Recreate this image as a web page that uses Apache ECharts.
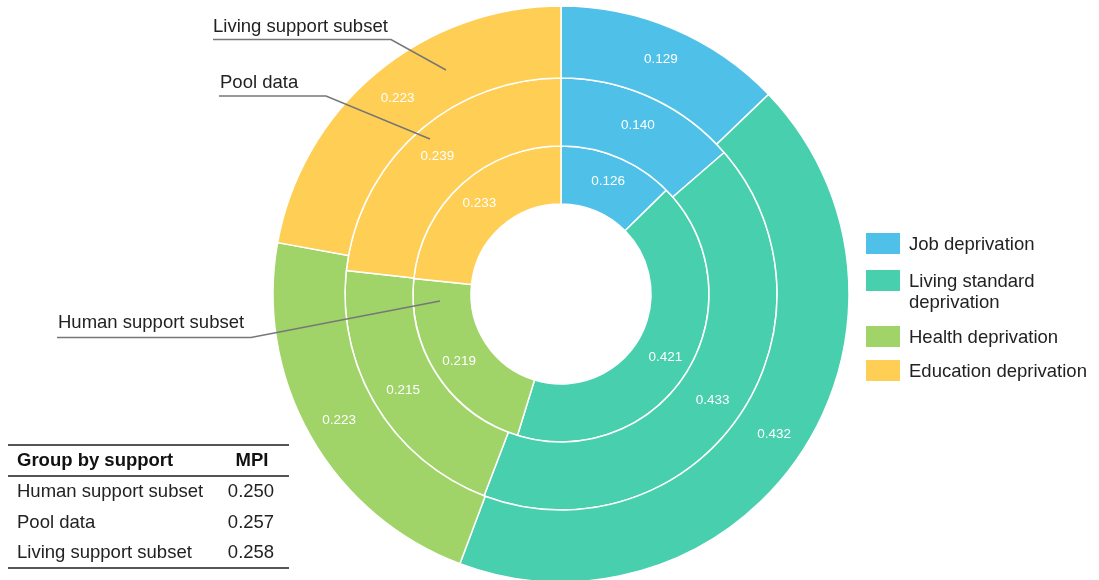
<!DOCTYPE html>
<html>
<head>
<meta charset="utf-8">
<script src="https://cdn.jsdelivr.net/npm/echarts@6/dist/echarts.min.js"></script>
<style>
  html, body { margin: 0; padding: 0; background: #fff; }
  #chart { width: 1099px; height: 580px; }
</style>
</head>
<body>
<div id="chart"></div>
<script>
// Deprivation dimensions (shared by all three rings)
const categories = ['Job deprivation', 'Living standard deprivation', 'Health deprivation', 'Education deprivation'];
const colors = ['#4FC1E9', '#48CFAD', '#A0D468', '#FFCE54'];

// Contribution of each dimension, per group
const humanSupport = [0.126, 0.421, 0.219, 0.233];   // inner ring
const poolData = [0.140, 0.433, 0.215, 0.239];       // middle ring
const livingSupport = [0.129, 0.432, 0.223, 0.223];  // outer ring

// MPI summary table
const groupNames = ['Human support subset', 'Pool data', 'Living support subset'];
const mpiValues = ['0.250', '0.257', '0.258'];

const FONT = 'Liberation Sans, Arial, sans-serif';
const CX = 561, CY = 294;

function ring(name, values, radius) {
  return {
    name: name,
    type: 'pie',
    center: [CX, CY],
    radius: radius,
    startAngle: 90,
    clockwise: true,
    silent: true,
    animation: false,
    itemStyle: { borderColor: '#fff', borderWidth: 1.5 },
    label: {
      show: true,
      position: 'inside',
      color: '#fff',
      fontSize: 13.5,
      fontFamily: FONT,
      formatter: p => p.value.toFixed(3)
    },
    labelLine: { show: false },
    emphasis: { disabled: true },
    data: values.map((v, i) => ({ name: categories[i], value: v }))
  };
}

const graphics = [];

// Legend: colour boxes with labels
const legendTops = [233, 270, 326, 360];
categories.forEach((c, i) => {
  graphics.push({
    type: 'rect', left: 866, top: legendTops[i], z: 100,
    shape: { width: 34, height: 21 },
    style: { fill: colors[i] }
  });
  const twoLine = c === 'Living standard deprivation';
  graphics.push({
    type: 'text', x: 909, y: twoLine ? legendTops[i] + 1 : legendTops[i] + 12, z: 100,
    style: {
      text: twoLine ? 'Living standard\ndeprivation' : c,
      fill: '#222', font: '18.5px ' + FONT,
      verticalAlign: twoLine ? 'top' : 'middle', align: 'left', lineHeight: 21
    }
  });
});

// Ring callouts: label, underline and pointer into the ring
const callouts = [
  { text: groupNames[2], tx: 213, ty: 27, pts: [[213, 39.5], [391, 39.5], [446, 70]] },
  { text: groupNames[1], tx: 220, ty: 83, pts: [[219, 96], [326, 96], [430, 139]] },
  { text: groupNames[0], tx: 58, ty: 323, pts: [[57, 337.5], [251, 337.5], [440, 301]] }
];
callouts.forEach(c => {
  graphics.push({
    type: 'text', x: c.tx, y: c.ty, z: 100,
    style: { text: c.text, fill: '#222', font: '18.5px ' + FONT, verticalAlign: 'middle' }
  });
  graphics.push({
    type: 'polyline', z: 100, shape: { points: c.pts },
    style: { stroke: '#777', lineWidth: 1.6, fill: null }
  });
});

// MPI table
const tableLines = [445, 476, 568];
tableLines.forEach(y => {
  graphics.push({
    type: 'line', z: 100, shape: { x1: 8, y1: y, x2: 289, y2: y },
    style: { stroke: '#555', lineWidth: 2 }
  });
});
graphics.push({
  type: 'text', x: 17, y: 461, z: 100,
  style: { text: 'Group by support', fill: '#111', font: 'bold 18.5px ' + FONT, verticalAlign: 'middle' }
});
graphics.push({
  type: 'text', x: 252, y: 461, z: 100,
  style: { text: 'MPI', fill: '#111', font: 'bold 18.5px ' + FONT, verticalAlign: 'middle', align: 'center' }
});
const rowYs = [492, 522.5, 553];
groupNames.forEach((g, i) => {
  graphics.push({
    type: 'text', x: 17, y: rowYs[i], z: 100,
    style: { text: g, fill: '#222', font: '18.5px ' + FONT, verticalAlign: 'middle' }
  });
  graphics.push({
    type: 'text', x: 251, y: rowYs[i], z: 100,
    style: { text: mpiValues[i], fill: '#222', font: '18.5px ' + FONT, verticalAlign: 'middle', align: 'center' }
  });
});

const chart = echarts.init(document.getElementById('chart'), null, { renderer: 'canvas' });
chart.setOption({
  backgroundColor: '#fff',
  animation: false,
  color: colors,
  series: [
    ring(groupNames[0], humanSupport, [90, 148]),
    ring(groupNames[1], poolData, [148, 216]),
    ring(groupNames[2], livingSupport, [216, 288])
  ],
  graphic: graphics
});
</script>
</body>
</html>
